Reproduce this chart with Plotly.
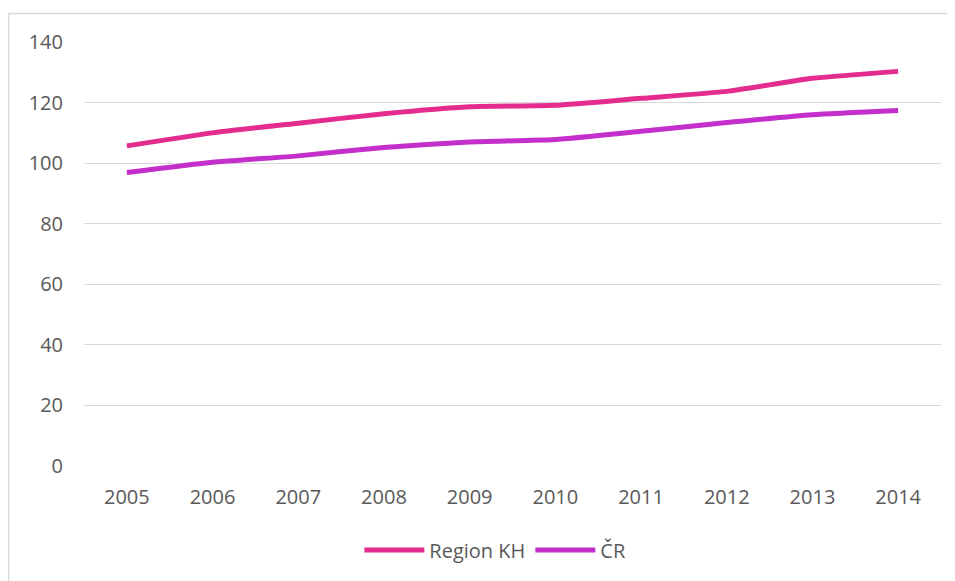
import plotly.graph_objects as go

years = ["2005", "2006", "2007", "2008", "2009", "2010", "2011", "2012", "2013", "2014"]
region_kh = [105.7, 110.0, 113.2, 116.3, 118.6, 119.1, 121.4, 123.7, 128.0, 130.3]
cr = [96.9, 100.3, 102.4, 105.2, 107.0, 107.8, 110.5, 113.4, 116.0, 117.4]
y_ticks = [0, 20, 40, 60, 80, 100, 120, 140]

FONT = "Open Sans"
TXT = "#595959"

fig = go.Figure()
fig.add_trace(go.Scatter(x=years, y=region_kh, name="Region KH", mode="lines",
                         line=dict(color="#E32C8E", width=5, shape="spline", smoothing=0.5)))
fig.add_trace(go.Scatter(x=years, y=cr, name="ČR", mode="lines",
                         line=dict(color="#C32FCA", width=5, shape="spline", smoothing=0.5)))

# page has an 8px body margin; figure coordinates = screen - 8
OFF = 8
W, H = 955 - OFF, 581 - OFF
ml, mr, mt, mb = 84 - OFF, 14, 42 - OFF, 115
pw, ph = W - ml - mr, H - mt - mb

def px_x(p):
    return (p - OFF - ml) / pw

def px_y(p):
    return (H - mb - (p - OFF)) / ph

fig.update_layout(
    width=W, height=H,
    margin=dict(l=ml, r=mr, t=mt, b=mb),
    paper_bgcolor="white", plot_bgcolor="white",
    font=dict(family=FONT, size=20, color=TXT),
    showlegend=True,
    legend=dict(orientation="h", x=0.48, xanchor="center", y=px_y(550), yanchor="middle",
                font=dict(family=FONT, size=20, color=TXT), itemwidth=60,
                bgcolor="rgba(0,0,0,0)"),
    xaxis=dict(type="category", showgrid=False, showline=False, zeroline=False,
               ticks="", tickfont=dict(size=20, color=TXT), ticklabelstandoff=17,
               range=[-0.5, 9.5]),
    yaxis=dict(range=[0, 140], tickvals=y_ticks, showgrid=True, gridcolor="#D9D9D9",
               gridwidth=1, zeroline=False, showline=False, ticks="",
               tickfont=dict(size=20, color=TXT), ticklabelstandoff=20),
    shapes=[
        dict(type="line", xref="paper", yref="paper", x0=px_x(8.5), x1=px_x(970),
             y0=px_y(13.5), y1=px_y(13.5), line=dict(color="#D9D9D9", width=1.5)),
        dict(type="line", xref="paper", yref="paper", x0=px_x(8.5), x1=px_x(8.5),
             y0=px_y(13.5), y1=px_y(600), line=dict(color="#D9D9D9", width=1.5)),
    ],
)

fig.write_html("out.html")
